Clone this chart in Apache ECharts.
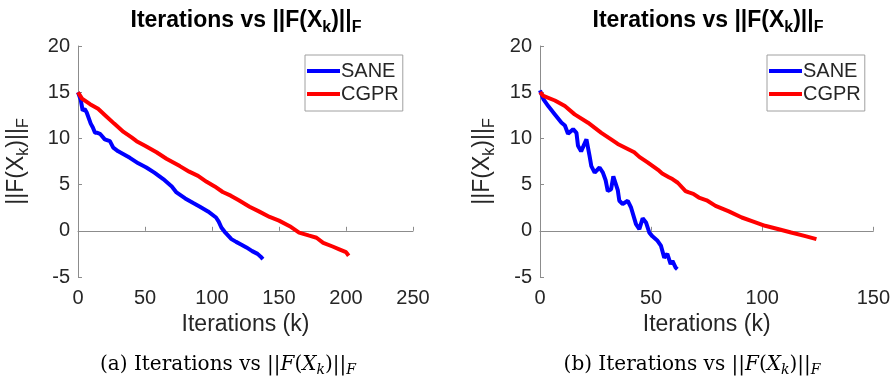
<!DOCTYPE html>
<html>
<head>
<meta charset="utf-8">
<script src="https://cdn.jsdelivr.net/npm/echarts@6/dist/echarts.min.js"></script>
<style>
  html, body { margin: 0; padding: 0; background: #fff; }
  #chart { width: 893px; height: 381px; }
</style>
</head>
<body>
<div id="chart"></div>
<script>
// (a) 왼쪽 그래프 데이터
const saneA_k = [0, 2, 3.5, 5, 6.5, 7.7, 9.5, 11, 12.7, 14.5, 16.4, 17.6, 20, 23.8, 26.3, 30, 38.7, 45, 51, 57, 63.6, 70, 73.5, 80, 86, 91, 97, 103, 105, 107, 110, 114.5, 118, 122, 125.7, 130, 134, 137, 138];
const saneA_v = [15, 14.2, 13, 13.2, 12.8, 12.6, 11.6, 11.2, 10.6, 10.6, 10.5, 10.6, 9.9, 9.7, 9.0, 8.6, 7.9, 7.3, 6.85, 6.3, 5.6, 4.8, 4.15, 3.5, 3.0, 2.6, 2.1, 1.44, 1.0, 0.36, -0.2, -0.9, -1.2, -1.5, -1.8, -2.2, -2.5, -2.9, -3.06];
const cgprA_k = [0, 1, 3, 9, 15, 21, 27, 34, 40, 43.7, 50, 58.6, 66, 76, 83, 89.6, 96, 102, 108, 114, 120, 128, 135, 143, 150, 158, 165, 172, 178, 183, 190, 195, 200, 202];
const cgprA_v = [15.0, 14.8, 14.3, 13.7, 13.2, 12.4, 11.6, 10.7, 10.1, 9.7, 9.2, 8.5, 7.8, 7.0, 6.4, 5.95, 5.3, 4.8, 4.2, 3.8, 3.3, 2.6, 2.1, 1.5, 1.1, 0.5, -0.2, -0.5, -0.75, -1.3, -1.7, -2.0, -2.3, -2.7];

// (b) 오른쪽 그래프 데이터
const saneB_k = [0, 1.5, 3.7, 6.7, 9.7, 11.2, 12.6, 14.9, 16.4, 17.1, 18.5, 20.9, 22.3, 23.1, 24.6, 26.8, 28.3, 29.5, 30.5, 32, 33, 33.8, 35, 35.7, 37.2, 39.5, 40.2, 41, 43.2, 44.7, 46.2, 47.7, 49.2, 50.6, 52.9, 54.4, 55.9, 57.3, 58.8, 59.6, 61.1, 61.8];
const saneB_v = [15.2, 14.25, 13.5, 12.6, 11.7, 11.4, 10.5, 11.0, 10.6, 9.2, 8.6, 9.9, 8.1, 7.0, 6.3, 6.85, 6.3, 5.5, 4.3, 4.5, 5.9, 6.1, 4.4, 3.25, 2.9, 3.25, 3.4, 2.5, 0.72, 0.18, 1.35, 0.9, -0.2, -0.6, -1.08, -1.6, -2.9, -2.5, -3.6, -3.25, -4.0, -4.15];
const cgprB_k = [0, 0.7, 1.5, 6.7, 11.2, 15.6, 21.6, 27.6, 32, 35, 42.4, 44.7, 48.4, 53.6, 55, 58, 59.6, 62, 65.5, 67, 69, 71.5, 75, 79, 85, 90.8, 96, 101.3, 107, 113, 119, 124.4];
const cgprB_v = [15.0, 15.2, 14.6, 14.1, 13.5, 12.6, 11.7, 10.6, 9.9, 9.4, 8.5, 8.0, 7.4, 6.5, 6.2, 5.8, 5.6, 5.2, 4.3, 4.15, 4.0, 3.6, 3.3, 2.7, 2.1, 1.44, 1.0, 0.54, 0.2, -0.18, -0.55, -0.9];

const seriesNames = ['SANE', 'CGPR'];
const xMaxA = 250, xMaxB = 150;

function pairs(ks, vs) {
    return ks.map((k, i) => [k, vs[i]]);
}

const chart = echarts.init(document.getElementById('chart'));

const fontMain = 'Liberation Sans, Arial, Helvetica, sans-serif';
const fontSerif = 'DejaVu Serif, serif';
const textColor = '#262626';
const axisColor = '#8c8c8c';

const nameRich = {
    m: { fontFamily: fontMain, fontSize: 23, color: textColor, lineHeight: 30, verticalAlign: 'middle' },
    s: { fontFamily: fontMain, fontSize: 16, color: textColor, lineHeight: 16, verticalAlign: 'bottom' }
};

function xAxisOf(gi, max) {
    return {
        type: 'value', gridIndex: gi, min: 0, max: max, interval: 50,
        name: 'Iterations (k)', nameLocation: 'middle', nameGap: 35,
        nameTextStyle: { fontFamily: fontMain, fontSize: 23, color: textColor },
        axisLine: { show: true, lineStyle: { color: axisColor, width: 1 } },
        axisTick: { show: true, inside: true, length: 4, lineStyle: { color: axisColor } },
        axisLabel: { fontFamily: fontMain, fontSize: 20, color: textColor, margin: 11 },
        splitLine: { show: false }
    };
}

function yAxisOf(gi, gap) {
    return {
        type: 'value', gridIndex: gi, min: -5, max: 20, interval: 5,
        name: '{m|||F(X}{s|k}{m|)||}{s|F}', nameLocation: 'middle', nameGap: gap, nameRotate: 90,
        nameTextStyle: { rich: nameRich },
        axisLine: { show: true, lineStyle: { color: axisColor, width: 1 } },
        axisTick: { show: true, inside: true, length: 4, lineStyle: { color: axisColor } },
        axisLabel: { fontFamily: fontMain, fontSize: 20, color: textColor, margin: 8 },
        splitLine: { show: false }
    };
}

function lineSeries(name, data, color, idx) {
    return {
        name: name, type: 'line', xAxisIndex: idx, yAxisIndex: idx,
        data: data, showSymbol: false, symbol: 'none',
        lineStyle: { color: color, width: 4 }, itemStyle: { color: color },
        animation: false
    };
}

function legendOf(left) {
    return {
        left: left, top: 55, orient: 'vertical',
        data: seriesNames,
        icon: 'rect', itemWidth: 33, itemHeight: 4, itemGap: 3,
        padding: [6, 4, 7, 2],
        borderColor: '#a0a0a0', borderWidth: 1, backgroundColor: '#fff',
        textStyle: { fontFamily: fontMain, fontSize: 20, color: textColor, padding: [0, 0, 0, -4] }
    };
}

const titleRich = {
    b: { fontFamily: fontMain, fontSize: 23, fontWeight: 'bold', color: '#000', lineHeight: 30, verticalAlign: 'middle' },
    s: { fontFamily: fontMain, fontSize: 16, fontWeight: 'bold', color: '#000', lineHeight: 16, verticalAlign: 'bottom' }
};
const capRich = {
    r: { fontFamily: fontSerif, fontSize: 20, color: '#111', lineHeight: 24, verticalAlign: 'middle' },
    i: { fontFamily: fontSerif, fontStyle: 'italic', fontSize: 20, color: '#111', lineHeight: 24, verticalAlign: 'middle' },
    s: { fontFamily: fontSerif, fontStyle: 'italic', fontSize: 14, color: '#111', lineHeight: 14, verticalAlign: 'bottom' }
};

function textEl(x, y, text, rich) {
    return {
        type: 'text', x: x, y: y,
        style: { text: text, rich: rich, align: 'center', verticalAlign: 'middle' }
    };
}

const titleText = '{b|Iterations vs ||F(X}{s|k}{b|)||}{s|F}';

const options = {
    animation: false,
    grid: [
        { left: 78, right: 480, top: 46, bottom: 104 },
        { left: 540, right: 17, top: 46, bottom: 104 }
    ],
    xAxis: [xAxisOf(0, xMaxA), xAxisOf(1, xMaxB)],
    yAxis: [yAxisOf(0, 46), yAxisOf(1, 42)],
    legend: [legendOf(305), legendOf(767)],
    series: [
        lineSeries('SANE', pairs(saneA_k, saneA_v), '#0000ff', 0),
        lineSeries('CGPR', pairs(cgprA_k, cgprA_v), '#ff0000', 0),
        lineSeries('SANE', pairs(saneB_k, saneB_v), '#0000ff', 1),
        lineSeries('CGPR', pairs(cgprB_k, cgprB_v), '#ff0000', 1)
    ],
    graphic: [
        textEl(246, 21, titleText, titleRich),
        textEl(708, 21, titleText, titleRich),
        textEl(228, 365, '{r|(a) Iterations vs ||}{i|F}{r|(}{i|X}{s|k}{r|)||}{s|F}', capRich),
        textEl(692, 365, '{r|(b) Iterations vs ||}{i|F}{r|(}{i|X}{s|k}{r|)||}{s|F}', capRich)
    ]
};

chart.setOption(options);
</script>
</body>
</html>
